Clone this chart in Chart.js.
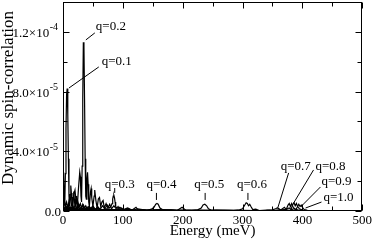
<!DOCTYPE html>
<html>
<head>
<meta charset="utf-8">
<script src="https://cdn.jsdelivr.net/npm/chart.js@4.4.0/dist/chart.umd.min.js"></script>
<style>
  html, body { margin: 0; padding: 0; background: #fff; }
</style>
</head>
<body>
<canvas id="specChart" width="374" height="241"></canvas>
<script>
// spectra, [energy (meV), value in units of 1e-5]
const UNIT = 1e-5;
const q01 = [[0,1.2],[1,2.6],[2,1.0],[3,0.5],[4,2.5],[5,5.5],[6,7.8],[7,8.2],[8,6.5],[9,3.5],[10,1.0],[11,0.3],[12,1.1],[13,1.7],[14,1.2],[15,0.4],[16,0.2],[17,0.9],[18,1.3],[19,0.8],[20,0.2],[21,0.5],[22,1.0],[23,0.6],[24,0.2],[25,0.6],[27,0.3],[29,0.5],[31,0.2],[33,0.45],[35,0.15],[38,0.35],[41,0.1],[44,0.3],[47,0.1],[50,0.25],[54,0.1],[58,0.2],[62,0.05],[70,0.1],[80,0.05],[100,0.05],[140,0.03],[200,0.02],[300,0.02],[400,0.01],[500,0]];
const q02 = [[0,0.4],[2,0.8],[4,0.3],[6,0.6],[8,0.2],[10,0.7],[12,1.0],[14,0.4],[16,0.3],[18,1.1],[20,1.4],[22,0.6],[24,0.4],[26,1.6],[28,2.6],[29,2.3],[30,1.0],[31,0.6],[32,3.0],[33,7.5],[34,11.3],[35,11.0],[36,7.5],[37,3.5],[38,1.0],[39,0.8],[40,2.2],[41,2.6],[42,1.8],[43,0.6],[44,0.3],[46,1.3],[47,1.5],[48,0.9],[50,0.3],[52,1.0],[53,1.4],[55,0.7],[57,0.2],[59,0.8],[61,0.9],[63,0.3],[65,0.6],[67,0.7],[69,0.2],[72,0.5],[75,0.2],[78,0.45],[81,0.15],[85,0.35],[90,0.1],[95,0.25],[100,0.08],[108,0.2],[116,0.05],[125,0.15],[140,0.05],[160,0.1],[200,0.03],[300,0.02],[400,0.01],[500,0]];
const q03 = [[0,0.2],[3,0.5],[6,0.1],[9,0.4],[12,0.15],[15,0.5],[18,0.2],[21,0.4],[24,0.1],[27,0.35],[30,0.15],[34,0.4],[38,0.1],[42,0.3],[46,0.15],[50,0.35],[54,0.1],[58,0.3],[62,0.1],[66,0.35],[70,0.15],[74,0.4],[77,0.2],[80,0.3],[82,0.5],[83,0.8],[84,1.0],[85,1.05],[86,0.9],[87,0.6],[88,0.3],[90,0.2],[92,0.3],[95,0.1],[98,0.2],[102,0.05],[108,0.15],[115,0.05],[122,0.25],[125,0.1],[140,0.03],[170,0.05],[220,0.02],[300,0.02],[400,0.01],[500,0]];
const q04 = [[0,0.3],[4,0.1],[8,0.35],[12,0.05],[16,0.3],[20,0.1],[25,0.3],[30,0.05],[35,0.25],[40,0.1],[46,0.2],[52,0.05],[58,0.2],[65,0.05],[72,0.15],[80,0.05],[90,0.12],[100,0.03],[110,0.1],[120,0.03],[130,0.08],[140,0.05],[148,0.12],[152,0.25],[155,0.45],[157,0.5],[159,0.45],[162,0.2],[166,0.1],[172,0.05],[180,0.08],[190,0.02],[210,0.05],[250,0.02],[320,0.01],[400,0.01],[500,0]];
const q05 = [[0,0.2],[5,0.3],[10,0.1],[15,0.25],[22,0.05],[30,0.2],[40,0.05],[50,0.15],[60,0.05],[75,0.12],[90,0.03],[105,0.1],[120,0.02],[135,0.08],[150,0.03],[170,0.06],[190,0.02],[199,0.25],[205,0.05],[215,0.02],[225,0.08],[231,0.2],[234,0.4],[237,0.45],[240,0.35],[243,0.15],[248,0.05],[256,0.06],[270,0.02],[300,0.03],[350,0.01],[420,0.01],[500,0]];
const q06 = [[0,0.15],[6,0.25],[12,0.05],[20,0.2],[30,0.05],[42,0.15],[55,0.03],[70,0.1],[90,0.03],[110,0.08],[130,0.02],[160,0.06],[190,0.02],[220,0.05],[250,0.02],[270,0.05],[285,0.03],[295,0.08],[300,0.15],[303,0.35],[306,0.55],[308,0.5],[310,0.35],[312,0.45],[314,0.3],[317,0.1],[322,0.12],[328,0.03],[340,0.06],[360,0.02],[420,0.01],[500,0]];
const q07 = [[0,0.1],[10,0.2],[20,0.05],[35,0.15],[50,0.02],[80,0.08],[120,0.02],[170,0.05],[220,0.02],[270,0.04],[320,0.02],[340,0.05],[350,0.08],[355,0.15],[358,0.2],[361,0.15],[364,0.05],[370,0.1],[378,0.02],[400,0.03],[450,0.01],[500,0]];
const q08 = [[0,0.1],[15,0.15],[30,0.03],[60,0.08],[100,0.02],[160,0.05],[220,0.02],[280,0.04],[330,0.02],[355,0.05],[365,0.1],[370,0.25],[373,0.1],[376,0.4],[378,0.5],[380,0.3],[382,0.5],[384,0.3],[387,0.15],[392,0.08],[400,0.03],[430,0.01],[500,0]];
const q09 = [[0,0.08],[20,0.12],[40,0.02],[80,0.06],[130,0.02],[200,0.04],[260,0.02],[320,0.03],[360,0.05],[372,0.1],[378,0.2],[381,0.1],[384,0.45],[386,0.55],[388,0.35],[390,0.5],[392,0.3],[395,0.15],[400,0.06],[410,0.02],[450,0.01],[500,0]];
const q10 = [[0,0.06],[25,0.1],[50,0.02],[100,0.05],[160,0.02],[230,0.04],[300,0.02],[350,0.03],[380,0.06],[386,0.15],[389,0.08],[392,0.3],[394,0.45],[396,0.3],[398,0.4],[400,0.25],[403,0.1],[408,0.05],[415,0.01],[460,0.01],[500,0]];

const seriesList = [q01, q02, q03, q04, q05, q06, q07, q08, q09, q10];

// axis ticks
const yTickValues = [0, 4e-5, 8e-5, 1.2e-4];
const yTickBase = ['0.0', '4.0\u00d710', '8.0\u00d710', '1.2\u00d710'];
const yTickExp = ['', '-5', '-5', '-4'];

// q labels and their leader lines (energy, value in 1e-5)
const qNames = ['q=0.1','q=0.2','q=0.3','q=0.4','q=0.5','q=0.6','q=0.7','q=0.8','q=0.9','q=1.0'];
const qTextAt = [[64.8,9.98],[54.8,12.33],[69.8,1.74],[139.5,1.74],[219.3,1.74],[290.7,1.74],[363.8,2.95],[421.9,2.95],[431.9,1.94],[435.2,0.87]];
const qLineFrom = [[10.0,8.24],[38.2,11.46],[86.4,1.21],[156.1,0.74],[237.5,0.74],[309,0.74],[358.8,0.2],[385.4,0.54],[397,0.27],[405.3,0.2]];
const qLineTo = [[59.8,9.65],[53.2,11.93],[86.4,1.54],[156.1,1.21],[237.5,1.21],[309,1.21],[377,2.55],[418.6,2.75],[430.2,1.61],[431.9,0.6]];

const SERIF = "'Liberation Serif', 'Times New Roman', serif";

// frame, inward ticks, labels and titles
const decor = {
    id: 'decor',
    afterDraw(chart) {
        const ctx = chart.ctx, a = chart.chartArea;
        const xs = chart.scales.x, ys = chart.scales.y;
        ctx.save();
        ctx.strokeStyle = '#000';
        ctx.fillStyle = '#000';
        ctx.lineWidth = 1;
        const L = Math.round(a.left) + 0.5, R = Math.round(a.right) - 0.5;
        const T = Math.round(a.top) + 0.5, B = Math.round(a.bottom) - 0.5;
        ctx.strokeRect(L, T, R - L, B - T);

        ctx.beginPath();
        for (let v = 0; v <= 500; v += 50) {
            const px = Math.round(xs.getPixelForValue(v)) + 0.5;
            const len = v % 100 === 0 ? 6 : 4;
            ctx.moveTo(px, B); ctx.lineTo(px, B - len);
            ctx.moveTo(px, T); ctx.lineTo(px, T + len);
        }
        for (let i = 0; i <= 7; i++) {
            const py = Math.round(ys.getPixelForValue(i * 2e-5)) + 0.5;
            const len = i % 2 === 0 ? 6 : 4;
            ctx.moveTo(L, py); ctx.lineTo(L + len, py);
            ctx.moveTo(R, py); ctx.lineTo(R - len, py);
        }
        ctx.stroke();

        // y tick labels with superscript exponents
        yTickValues.forEach((v, i) => {
            const py = ys.getPixelForValue(v);
            const right = a.left - 5;
            ctx.font = '10px ' + SERIF;
            const ew = yTickExp[i] ? ctx.measureText(yTickExp[i]).width : 0;
            ctx.textBaseline = 'alphabetic';
            ctx.textAlign = 'left';
            if (yTickExp[i]) ctx.fillText(yTickExp[i], right - ew, py - 1.5);
            ctx.font = '13px ' + SERIF;
            ctx.textAlign = 'right';
            ctx.fillText(yTickBase[i], right - ew - (ew ? 0.5 : -3), py + 5);
        });

        // axis titles
        ctx.textAlign = 'center';
        ctx.textBaseline = 'middle';
        ctx.font = '15px ' + SERIF;
        ctx.fillText('Energy (meV)', (a.left + a.right) / 2, 231);
        ctx.save();
        ctx.translate(9, 98);
        ctx.rotate(-Math.PI / 2);
        ctx.font = '17px ' + SERIF;
        ctx.fillText('Dynamic spin-correlation', 0, 0);
        ctx.restore();

        // q annotations
        ctx.font = '13px ' + SERIF;
        ctx.textAlign = 'left';
        ctx.textBaseline = 'middle';
        ctx.beginPath();
        qNames.forEach((name, i) => {
            ctx.fillText(name, xs.getPixelForValue(qTextAt[i][0]), ys.getPixelForValue(qTextAt[i][1] * UNIT));
            ctx.moveTo(xs.getPixelForValue(qLineFrom[i][0]), ys.getPixelForValue(qLineFrom[i][1] * UNIT));
            ctx.lineTo(xs.getPixelForValue(qLineTo[i][0]), ys.getPixelForValue(qLineTo[i][1] * UNIT));
        });
        ctx.stroke();
        ctx.restore();
    }
};

const datasets = seriesList.map((s, i) => ({
    label: qNames[i],
    data: s.map(p => ({ x: p[0], y: p[1] * UNIT })),
    borderColor: '#000',
    borderWidth: 1.2,
    pointRadius: 0,
    fill: false,
    tension: 0
}));

window.onload = function () {
    const ctx = document.getElementById('specChart').getContext('2d');
    new Chart(ctx, {
        type: 'line',
        data: { datasets: datasets },
        plugins: [decor],
        options: {
            responsive: false,
            animation: false,
            devicePixelRatio: 1,
            layout: { padding: { top: 2, right: 10, left: 0, bottom: 0 } },
            plugins: { legend: { display: false }, tooltip: { enabled: false } },
            scales: {
                x: {
                    type: 'linear', min: 0, max: 500,
                    grid: { display: false, drawTicks: false },
                    border: { display: false },
                    ticks: { stepSize: 100, color: '#000', padding: 2, maxRotation: 0,
                             font: { family: SERIF, size: 13 } },
                    afterFit: s => { s.height = 30; }
                },
                y: {
                    type: 'linear', min: 0, max: 1.4e-4,
                    grid: { display: false, drawTicks: false },
                    border: { display: false },
                    ticks: { display: false },
                    afterFit: s => { s.width = 63; }
                }
            }
        }
    });
};
</script>
</body>
</html>
